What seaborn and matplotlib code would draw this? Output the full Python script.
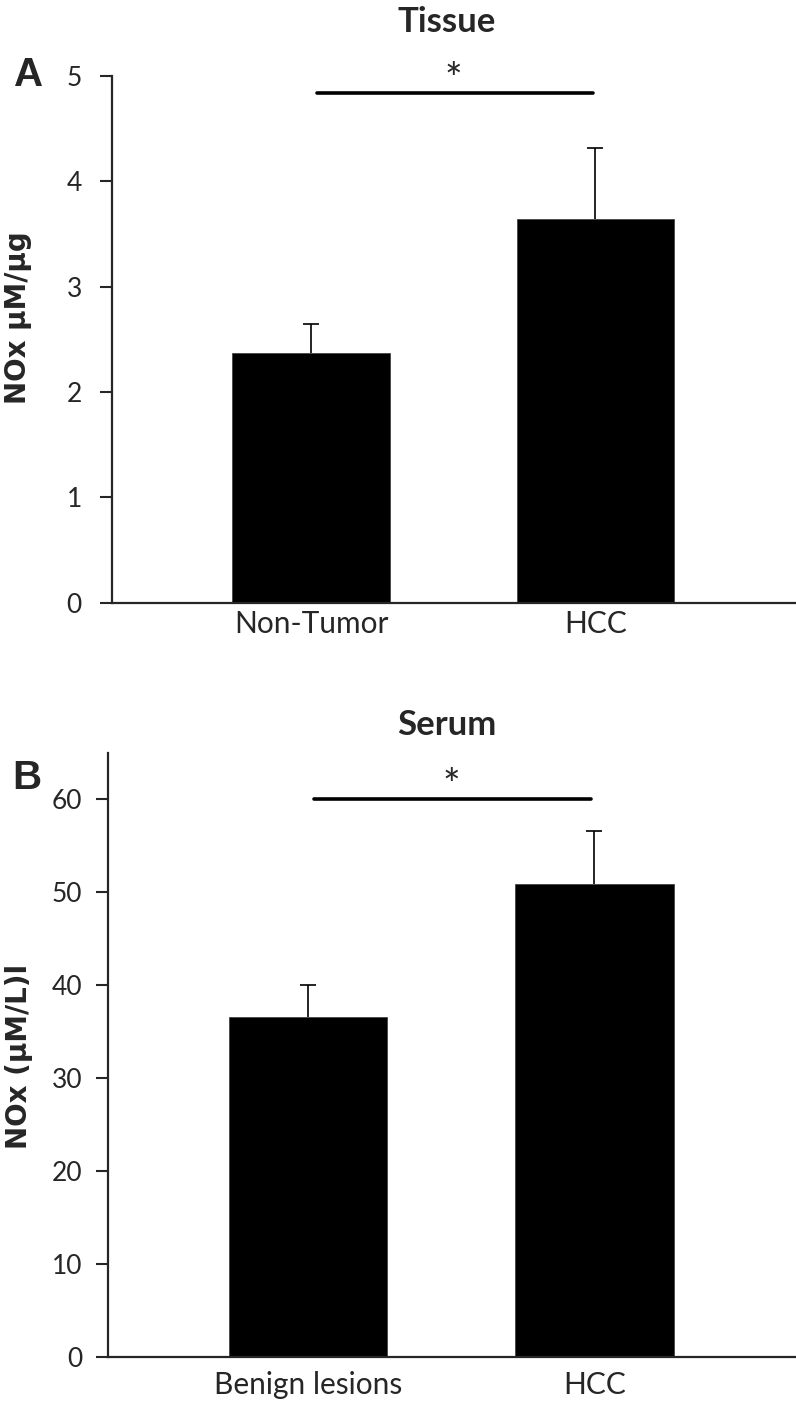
import matplotlib
matplotlib.use('Agg')
import matplotlib.pyplot as plt
import seaborn as sns

# Panel A - tissue
tissue_groups = ["Non-Tumor", "HCC"]
tissue_means = [2.37, 3.645]
tissue_errs = [0.28, 0.67]
tissue_ticks = [0, 1, 2, 3, 4, 5]
tissue_sig = 4.84

# Panel B - serum
serum_groups = ["Benign lesions", "HCC"]
serum_means = [36.6, 50.9]
serum_errs = [3.45, 5.65]
serum_ticks = [0, 10, 20, 30, 40, 50, 60]
serum_sig = 60.0

sns.set_style("ticks")
plt.rcParams['font.family'] = ['Lato', 'DejaVu Sans']

fig = plt.figure(figsize=(7.96, 14.08), dpi=100)
ax_a = fig.add_axes([0.1407, 0.572, 0.8593, 0.374])
ax_b = fig.add_axes([0.1353, 0.0364, 0.8647, 0.429])


def draw_panel(ax, groups, means, errs, ticks, ymax, sig_y, title, ylabel,
               title_xy, ylabel_xy, ypad, xpad):
    sns.barplot(x=groups, y=means, color='black', width=0.554, ax=ax,
                saturation=1, edgecolor='#444444', linewidth=0.6)
    # upper-only error bars, drop the cap sitting on the bar top
    _, caps, _ = ax.errorbar(range(len(groups)), means,
                             yerr=[[0] * len(errs), errs], fmt='none',
                             ecolor='black', elinewidth=1.2, capsize=5.5,
                             capthick=1.2)
    caps[0].set_visible(False)
    ax.set_xlim(-0.7, 1.705)
    ax.set_ylim(0, ymax)
    ax.set_yticks(ticks)
    ax.tick_params(axis='y', length=8.6, width=1.5, labelsize=19, pad=ypad)
    ax.tick_params(axis='x', length=0, labelsize=21.5, pad=xpad)
    for side in ['top', 'right']:
        ax.spines[side].set_visible(False)
    for side in ['left', 'bottom']:
        ax.spines[side].set_linewidth(1.6)
    # significance bracket
    ax.plot([0.02, 0.99], [sig_y, sig_y], color='black', lw=2.6, clip_on=False)
    ax.annotate("*", xy=(0.5, sig_y), xytext=(0, 0), textcoords='offset points',
                ha='center', va='baseline', fontsize=30, annotation_clip=False)
    ax.text(title_xy[0], title_xy[1], title, transform=ax.transAxes,
            ha='center', va='center', fontsize=25, fontweight='bold')
    ax.set_ylabel(ylabel, fontsize=20, fontweight='bold', family='DejaVu Sans')
    ax.yaxis.set_label_coords(*ylabel_xy)


draw_panel(ax_a, tissue_groups, tissue_means, tissue_errs, tissue_ticks, 5,
           tissue_sig, "Tissue", "NOx µM/µg", (0.489, 1.1025), (-0.117, 0.542),
           13, 5)
draw_panel(ax_b, serum_groups, serum_means, serum_errs, serum_ticks, 65,
           serum_sig, "Serum", "NOx (µM/L)l", (0.493, 1.046), (-0.1085, 0.498),
           9.5, 10)

fig.text(0.0364, 0.9467, "A", ha='center', va='center', fontsize=29,
         fontweight='bold', family='Liberation Sans')
fig.text(0.0339, 0.4474, "B", ha='center', va='center', fontsize=29,
         fontweight='bold', family='Liberation Sans')

fig.savefig("out.png", dpi=100)
